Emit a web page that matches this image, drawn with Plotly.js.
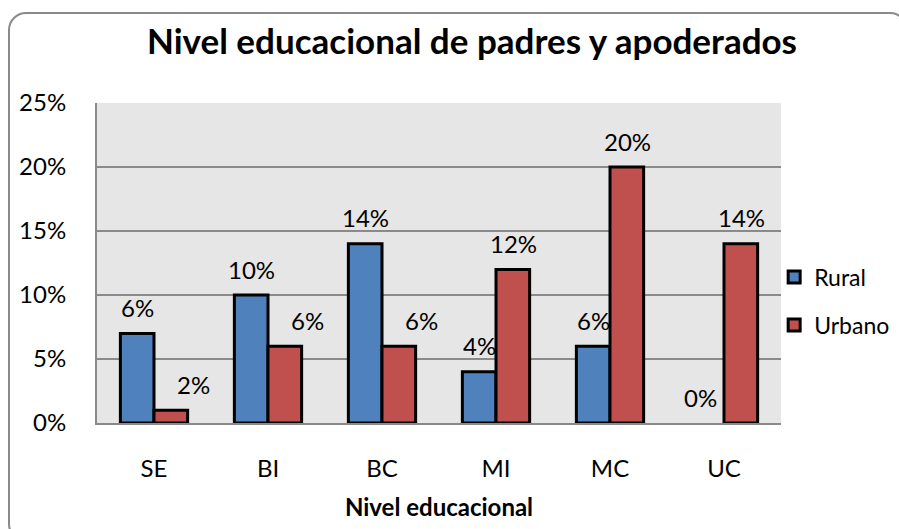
<!DOCTYPE html>
<html>
<head>
<meta charset="utf-8">
<script src="https://cdn.plot.ly/plotly-3.0.1.min.js"></script>
<style>
  html, body { margin: 0; padding: 0; background: #ffffff; width: 899px; height: 529px; overflow: hidden; }
  #frame { position: absolute; left: 8px; top: 12px; width: 900px; height: 530px;
           border: 2px solid #8a8a8a; border-radius: 18px; box-sizing: border-box; }
  #chart { position: absolute; left: 0; top: 0; width: 899px; height: 529px; }
</style>
</head>
<body>
<div id="frame"></div>
<div id="chart"></div>
<script>
// ---- data ----
const categories = ["SE", "BI", "BC", "MI", "MC", "UC"];
const ruralValues = [7, 10, 14, 4, 6, 0];
const urbanoValues = [1, 6, 6, 12, 20, 14];
const ruralLabels = ["6%", "10%", "14%", "4%", "6%", "0%"];
const urbanoLabels = ["2%", "6%", "6%", "12%", "20%", "14%"];
const yTickValues = [0, 5, 10, 15, 20, 25];
const yTickLabels = ["0%", "5%", "10%", "15%", "20%", "25%"];

const FONT = "Lato, 'Open Sans', sans-serif";
const FS = 24;

// no outline for zero-height bars (Excel draws nothing there)
const ruralOutline = ruralValues.map(v => (v === 0 ? 0 : 3));
const urbanoOutline = urbanoValues.map(v => (v === 0 ? 0 : 3));

const traces = [
  {
    type: "bar", name: "Rural", x: categories, y: ruralValues,
    marker: { color: "#4f81bd", line: { color: "#000000", width: ruralOutline } },
    legend: "legend", hoverinfo: "skip"
  },
  {
    type: "bar", name: "Urbano", x: categories, y: urbanoValues,
    marker: { color: "#c0504d", line: { color: "#000000", width: urbanoOutline } },
    legend: "legend2", hoverinfo: "skip"
  }
];

// value labels placed above each bar (Excel style, with gap)
const annotations = [];
const halfBar = 17;
const ruralNudge = [0, 0, 0, 0, 0, -7];
const urbanoNudge = [22, 22, 22, 0, 0, 0];
categories.forEach((c, i) => {
  annotations.push({
    x: c, y: ruralValues[i], xref: "x", yref: "y", text: ruralLabels[i],
    showarrow: false, xshift: -halfBar + ruralNudge[i], yshift: 26,
    yanchor: "middle", font: { family: FONT, size: FS, color: "#000" }
  });
  annotations.push({
    x: c, y: urbanoValues[i], xref: "x", yref: "y", text: urbanoLabels[i],
    showarrow: false, xshift: halfBar + urbanoNudge[i], yshift: 26,
    yanchor: "middle", font: { family: FONT, size: FS, color: "#000" }
  });
});

const layout = {
  width: 899, height: 529,
  margin: { l: 97, r: 118, t: 103, b: 106, pad: 0, autoexpand: false },
  paper_bgcolor: "rgba(0,0,0,0)",
  plot_bgcolor: "#e6e6e6",
  font: { family: FONT, size: FS, color: "#000" },
  title: {
    text: "<b>Nivel educacional de padres y apoderados</b>",
    font: { family: FONT, size: 35, color: "#000" },
    xref: "container", x: 0.525, xanchor: "center",
    yref: "container", y: 1 - 42 / 529, yanchor: "middle"
  },
  barmode: "group", bargap: 0.41, bargroupgap: 0,
  xaxis: {
    type: "category", showgrid: false, showline: true, linecolor: "#8a8a8a", linewidth: 2,
    ticks: "", ticklabelstandoff: 23, tickfont: { family: FONT, size: FS },
    title: { text: "<b>Nivel educacional</b>", font: { family: FONT, size: 24 }, standoff: 18 },
    fixedrange: true
  },
  yaxis: {
    range: [0, 25], tickvals: yTickValues, ticktext: yTickLabels,
    showgrid: true, gridcolor: "#8a8a8a", gridwidth: 2,
    showline: true, linecolor: "#8a8a8a", linewidth: 2, zeroline: false,
    ticks: "", ticklabelstandoff: 24, tickfont: { family: FONT, size: FS },
    fixedrange: true
  },
  showlegend: true,
  legend: {
    x: 0.99, xanchor: "left", y: 1 - (277 - 103) / 320, yanchor: "middle",
    bgcolor: "rgba(0,0,0,0)", font: { family: FONT, size: 23 },
    itemwidth: 30, tracegroupgap: 0
  },
  legend2: {
    x: 0.99, xanchor: "left", y: 1 - (325 - 103) / 320, yanchor: "middle",
    bgcolor: "rgba(0,0,0,0)", font: { family: FONT, size: 23 },
    itemwidth: 30, tracegroupgap: 0
  },
  annotations: annotations
};

Plotly.newPlot("chart", traces, layout, { staticPlot: true, displayModeBar: false });
</script>
</body>
</html>
